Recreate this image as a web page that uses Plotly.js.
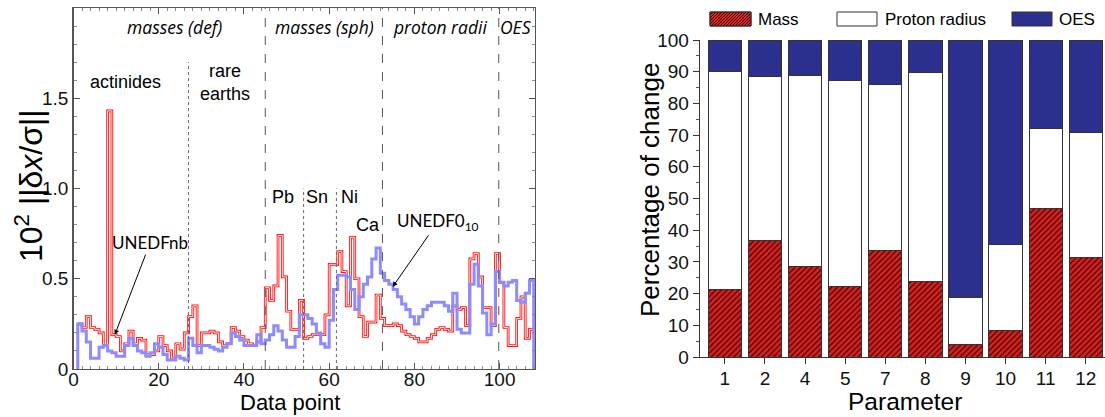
<!DOCTYPE html>
<html><head><meta charset="utf-8">
<script src="https://cdn.plot.ly/plotly-3.0.1.min.js"></script>
<style>html,body{margin:0;padding:0;background:#fff}#chart{width:1105px;height:417px}</style>
</head><body><div id="chart"></div>
<script>
// ---------- Left panel data: 10^2 ||dx/sigma|| per data point ----------
const unedfnb = [
0.25, 0.23, 0.29, 0.23, 0.22, 0.20, 0.13, 1.43, 0.19, 0.18,
0.10, 0.14, 0.21, 0.14, 0.17, 0.16, 0.08, 0.08, 0.10, 0.18,
0.13, 0.10, 0.06, 0.14, 0.11, 0.20, 0.29, 0.35, 0.13, 0.20,
0.20, 0.21, 0.20, 0.15, 0.13, 0.14, 0.23, 0.21, 0.18, 0.16,
0.14, 0.13, 0.15, 0.23, 0.45, 0.38, 0.46, 0.74, 0.51, 0.32,
0.22, 0.22, 0.38, 0.17, 0.18, 0.19, 0.19, 0.19, 0.30, 0.58,
0.58, 0.65, 0.54, 0.35, 0.73, 0.50, 0.29, 0.18, 0.26, 0.26,
0.41, 0.28, 0.24, 0.24, 0.25, 0.24, 0.21, 0.19, 0.18, 0.17,
0.15, 0.15, 0.17, 0.19, 0.22, 0.23, 0.22, 0.21, 0.35, 0.33,
0.34, 0.24, 0.61, 0.64, 0.51, 0.34, 0.34, 0.24, 0.64, 0.48,
0.23, 0.13, 0.13, 0.28, 0.40, 0.17, 0.22];
const unedf010 = [
0.25, 0.21, 0.15, 0.06, 0.06, 0.12, 0.13, 0.10, 0.09, 0.07,
0.07, 0.13, 0.17, 0.13, 0.10, 0.09, 0.07, 0.09, 0.14, 0.12,
0.08, 0.05, 0.05, 0.07, 0.06, 0.05, 0.17, 0.13, 0.09, 0.13,
0.13, 0.12, 0.11, 0.10, 0.12, 0.14, 0.20, 0.18, 0.16, 0.13,
0.13, 0.13, 0.19, 0.14, 0.16, 0.19, 0.24, 0.21, 0.16, 0.12,
0.12, 0.18, 0.30, 0.30, 0.28, 0.25, 0.20, 0.14, 0.12, 0.27,
0.44, 0.52, 0.52, 0.51, 0.44, 0.33, 0.40, 0.47, 0.51, 0.61,
0.67, 0.53, 0.49, 0.47, 0.44, 0.40, 0.36, 0.33, 0.29, 0.25,
0.29, 0.33, 0.35, 0.37, 0.37, 0.37, 0.35, 0.32, 0.42, 0.22,
0.20, 0.20, 0.47, 0.58, 0.46, 0.31, 0.19, 0.25, 0.54, 0.48,
0.46, 0.48, 0.49, 0.38, 0.37, 0.42, 0.49];
// region boundaries (data-point units)
const majorBounds = [45, 72.5, 99.8];
const minorBounds = [[27, 1.70], [54, 1.00], [61.7, 1.00]];
const xTickVals = [0, 20, 40, 60, 80, 100];
const yTickVals = [0, 0.5, 1, 1.5];
const yTickText = ['0', '0.5', '1.0', '1.5'];

// ---------- Right panel data: percentage of change ----------
const parameters = ['1', '2', '4', '5', '7', '8', '9', '10', '11', '12'];
const massPct   = [21.2, 36.7, 28.7, 22.2, 33.7, 23.8, 4.1, 8.4, 46.7, 31.3];
const radiusPct = [69.0, 51.9, 60.0, 65.1, 52.3, 65.9, 14.7, 27.1, 25.3, 39.4];
const oesPct    = [9.8, 11.4, 11.3, 12.7, 14.0, 10.3, 81.2, 64.5, 28.0, 29.3];

const W = 1105, H = 417;
const FONT = 'Liberation Sans, Arial, sans-serif';
const RED = '#ff1010', BLUE = '#8c8cff';
const MASS = '#dc2020', NAVY = '#2b2f8e';

const pts = unedfnb.map((_, i) => i + 1);
const endX = pts.length + 1;
const redX = pts.concat([endX]);
const redY = unedfnb.concat([unedfnb[unedfnb.length - 1]]);
const blueX = [1].concat(pts, [endX]);
const blueY = [0].concat(unedf010, [0]);

const traces = [
  {type: 'scatter', mode: 'lines', x: redX, y: redY, line: {shape: 'hv', color: RED, width: 2.7}, xaxis: 'x', yaxis: 'y', hoverinfo: 'skip'},
  {type: 'scatter', mode: 'lines', x: redX, y: redY, line: {shape: 'hv', color: '#ffffff', width: 0.9}, xaxis: 'x', yaxis: 'y', hoverinfo: 'skip'},
  {type: 'scatter', mode: 'lines', x: blueX, y: blueY, line: {shape: 'hv', color: BLUE, width: 3}, xaxis: 'x', yaxis: 'y', hoverinfo: 'skip'},
  {type: 'bar', name: 'Mass', x: parameters, y: massPct, xaxis: 'x2', yaxis: 'y2',
   marker: {color: MASS, line: {color: '#333', width: 1},
            pattern: {shape: '/', fgcolor: '#3a0606', bgcolor: MASS, size: 4, solidity: 0.3, fillmode: 'replace'}}},
  {type: 'bar', name: 'Proton radius', x: parameters, y: radiusPct, xaxis: 'x2', yaxis: 'y2',
   marker: {color: '#ffffff', line: {color: '#333', width: 1}}},
  {type: 'bar', name: 'OES', x: parameters, y: oesPct, xaxis: 'x2', yaxis: 'y2',
   marker: {color: NAVY, line: {color: '#333', width: 1}}}
];

const shapes = [];
majorBounds.forEach(b => shapes.push({type: 'line', xref: 'x', yref: 'y', x0: b, x1: b, y0: 0, y1: 2,
  line: {color: '#555', width: 1, dash: 'dash'}}));
minorBounds.forEach(([b, top]) => shapes.push({type: 'line', xref: 'x', yref: 'y', x0: b, x1: b, y0: 0, y1: top,
  line: {color: '#666', width: 1, dash: 'dot'}}));

// custom legend swatches (pixel boxes converted to paper)
function box(x0, y0, x1, y1, fill) {
  return {type: 'rect', xref: 'paper', yref: 'paper', x0: x0 / W, x1: x1 / W, y0: 1 - y1 / H, y1: 1 - y0 / H,
    fillcolor: fill, line: {color: '#333', width: 1}};
}
function hatch(x0, y0, x1, y1, step) {
  const h = y1 - y0; let d = '';
  for (let u = x0 - h; u < x1; u += step) {
    const t0 = Math.max(0, (x0 - u) / h), t1 = Math.min(1, (x1 - u) / h);
    if (t1 <= t0) continue;
    const ax = u + t0 * h, ay = y1 - t0 * h, bx = u + t1 * h, by = y1 - t1 * h;
    d += 'M' + (ax / W) + ',' + (1 - ay / H) + 'L' + (bx / W) + ',' + (1 - by / H);
  }
  return {type: 'path', xref: 'paper', yref: 'paper', path: d, line: {color: '#3a0606', width: 1}};
}
shapes.push(box(710, 12, 751, 26, MASS));
shapes.push(hatch(710, 12, 751, 26, 3));
shapes.push(box(710, 12, 751, 26, 'rgba(0,0,0,0)'));
shapes.push(box(837, 12, 877, 26, '#ffffff'));
shapes.push(box(1012, 12, 1052, 26, NAVY));

const ann = [];
function txt(text, x, y, size, opts) {
  ann.push(Object.assign({text: text, x: x, y: y, xref: 'paper', yref: 'paper', showarrow: false,
    font: {family: FONT, size: size, color: '#000'}, xanchor: 'center', yanchor: 'middle'}, opts || {}));
}
// legend labels
txt('Mass', 756 / W, 1 - 19 / H, 17, {xanchor: 'left'});
txt('Proton radius', 883 / W, 1 - 19 / H, 17, {xanchor: 'left'});
txt('OES', 1057 / W, 1 - 19 / H, 17, {xanchor: 'left'});
// axis titles
txt('Data point', 290 / W, 1 - 402 / H, 22);
txt('10<sup>2</sup> ||δ<i>x</i>/σ||', 29 / W, 1 - 186 / H, 32, {textangle: -90});
txt('Parameter', 905 / W, 1 - 401 / H, 24.5);
txt('Percentage of change', 650 / W, 1 - 190 / H, 26, {textangle: -90});

// region labels in the left panel
const ital = {family: 'Open Sans, Lato, sans-serif', size: 17.5, color: '#000', style: 'italic'};
[['masses (def)', 23.8], ['masses (sph)', 59.0], ['proton radii', 86.0], ['OES', 103.8]].forEach(([t, x]) => {
  ann.push({text: t, x: x, y: 1 - 27 / H, xref: 'x', yref: 'paper', showarrow: false, font: ital, xanchor: 'center', yanchor: 'middle'});
});
const lab = {family: FONT, size: 18, color: '#000'};
[['actinides', 12.1, 1.59], ['rare<br>earths', 35.5, 1.59], ['Pb', 49.1, 0.955], ['Sn', 57.2, 0.955],
 ['Ni', 64.7, 0.955], ['Ca', 69.0, 0.80]].forEach(([t, x, y]) => {
  ann.push({text: t, x: x, y: y, xref: 'x', yref: 'y', showarrow: false, font: lab, xanchor: 'center', yanchor: 'middle'});
});
const arrowFont = {family: 'Lato, Open Sans, sans-serif', size: 17, color: '#000'};
ann.push({text: 'UNEDFnb', x: 9.7, y: 0.19, xref: 'x', yref: 'y', axref: 'x', ayref: 'y', ax: 18.0, ay: 0.70,
  showarrow: true, arrowhead: 2, arrowsize: 1, arrowwidth: 1, arrowcolor: '#000', font: arrowFont});
ann.push({text: 'UNEDF0<sub>10</sub>', x: 74.9, y: 0.455, xref: 'x', yref: 'y', axref: 'x', ayref: 'y', ax: 85.5, ay: 0.815,
  showarrow: true, arrowhead: 2, arrowsize: 1, arrowwidth: 1, arrowcolor: '#000', font: arrowFont});

const tickFont = {family: FONT, size: 19, color: '#111'};
const layout = {
  width: W, height: H, margin: {l: 0, r: 0, t: 0, b: 0}, paper_bgcolor: '#fff', plot_bgcolor: 'rgba(0,0,0,0)',
  showlegend: false, barmode: 'stack', bargap: 0.17,
  xaxis: {domain: [73.5 / W, 535 / W], range: [0, 108.3], anchor: 'y', showline: true, linecolor: '#555', linewidth: 1.3,
    mirror: 'allticks', ticks: 'inside', ticklen: 6, tickcolor: '#555', tickmode: 'array', tickvals: xTickVals,
    ticklabelstandoff: -7,
    minor: {tickmode: 'linear', tick0: 0, dtick: 2, ticks: 'inside', ticklen: 3, tickcolor: '#888'},
    showgrid: false, zeroline: false, tickfont: tickFont, fixedrange: true},
  yaxis: {domain: [1 - 369 / H, 1 - 8 / H], range: [0, 2.0], anchor: 'x', showline: true, linecolor: '#555', linewidth: 1.3,
    mirror: 'allticks', ticks: 'inside', ticklen: 6, tickcolor: '#555', tickmode: 'array', tickvals: yTickVals, ticktext: yTickText,
    minor: {tickmode: 'linear', tick0: 0, dtick: 0.1, ticks: 'inside', ticklen: 3, tickcolor: '#888'},
    showgrid: false, zeroline: false, tickfont: tickFont, fixedrange: true},
  xaxis2: {domain: [700 / W, 1], range: [-0.62, 9.48], anchor: 'y2', type: 'category', showline: true, linecolor: '#333',
    linewidth: 1.3, ticks: 'outside', ticklen: 6, tickcolor: '#333', ticklabelstandoff: -2,
    showgrid: false, zeroline: false, tickfont: tickFont, fixedrange: true},
  yaxis2: {domain: [1 - 357 / H, 1 - 40 / H], range: [0, 100], anchor: 'x2', showline: true, linecolor: '#333', linewidth: 1.3,
    ticks: 'outside', ticklen: 6, tickcolor: '#333', dtick: 10, tick0: 0,
    minor: {dtick: 5, ticks: 'outside', ticklen: 3, tickcolor: '#555'},
    showgrid: false, zeroline: false, tickfont: tickFont, fixedrange: true},
  shapes: shapes, annotations: ann
};
Plotly.newPlot('chart', traces, layout, {staticPlot: true, displayModeBar: false});
</script></body></html>
